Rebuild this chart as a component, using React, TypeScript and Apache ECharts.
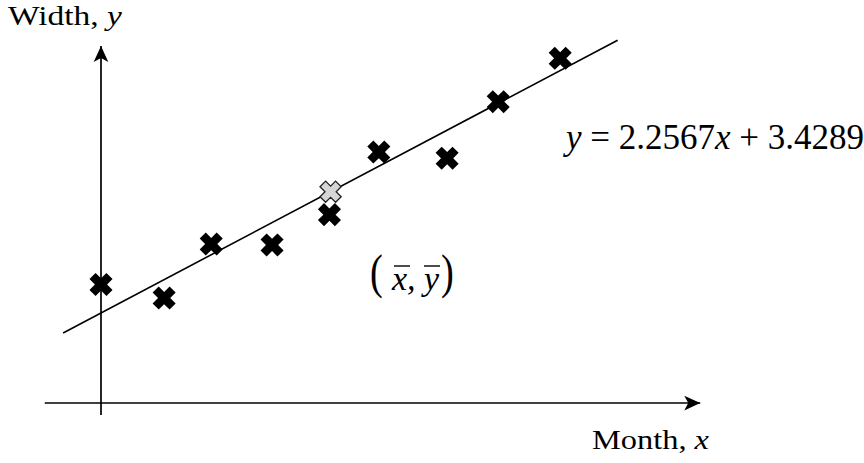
import React, { useEffect, useRef } from "react";
import * as echarts from "echarts";

// Observations: month on x, width on y
const monthX = [0, 1.1, 1.92, 2.98, 3.98, 4.84, 6.03, 6.92, 8.0];
const widthY = [5.55, 4.54, 8.56, 8.49, 10.75, 15.41, 14.95, 19.16, 22.39];

// Least-squares line y = slope * x + intercept
const slope = 2.2567;
const intercept = 3.4289;
const meanX = 4;
const fitFrom = -0.66;
const fitTo = 9.0;

// Value window of the plot and the hand-drawn axes
const xMin = -1;
const xMax = 11;
const yMin = -5;
const yMax = 25;
const xAxisLevel = -3.28;
const xAxisStart = -0.98;
const xAxisEnd = 10.44;
const yAxisStart = -4.17;
const yAxisEnd = 23.3;

const fit = (x: number) => slope * x + intercept;

// Thick cross marker: a plus sign turned 45 degrees
const CROSS =
  "path://M3.2,0 L6.8,0 L6.8,3.2 L10,3.2 L10,6.8 L6.8,6.8 L6.8,10 L3.2,10 L3.2,6.8 L0,6.8 L0,3.2 L3.2,3.2 Z";

const SERIF = "Liberation Serif";

const richPair = (size: number) => ({
  r: { fontFamily: SERIF, fontSize: size, fill: "#000", color: "#000" },
  i: { fontFamily: SERIF, fontSize: size, fontStyle: "italic", fill: "#000", color: "#000" },
});

export default function App() {
  const ref = useRef<HTMLDivElement>(null);

  useEffect(() => {
    if (!ref.current) return;
    const chart = echarts.init(ref.current, undefined, { renderer: "svg" });
    const points = monthX.map((m, i) => [m, widthY[i]]);

    chart.setOption({
      animation: false,
      backgroundColor: "#ffffff",
      grid: { left: 43.6, right: 131.6, top: 23.25, bottom: 36.85 },
      xAxis: { type: "value", min: xMin, max: xMax, show: false },
      yAxis: { type: "value", min: yMin, max: yMax, show: false },
      series: [
        {
          type: "line",
          data: [],
          silent: true,
          markLine: {
            silent: true,
            symbol: ["none", "arrow"],
            symbolSize: [11, 16],
            label: { show: false },
            lineStyle: { color: "#000", width: 1.7, type: "solid" },
            emphasis: { disabled: true },
            data: [
              [{ coord: [xAxisStart, xAxisLevel] }, { coord: [xAxisEnd, xAxisLevel] }],
              [{ coord: [0, yAxisStart] }, { coord: [0, yAxisEnd] }],
            ],
          },
        },
        {
          type: "line",
          data: [
            [fitFrom, fit(fitFrom)],
            [fitTo, fit(fitTo)],
          ],
          symbol: "none",
          silent: true,
          lineStyle: { color: "#000", width: 1.6 },
          z: 3,
        },
        {
          type: "scatter",
          data: points,
          symbol: CROSS,
          symbolRotate: 45,
          symbolSize: 24,
          itemStyle: { color: "#000", opacity: 1 },
          z: 4,
        },
        {
          type: "scatter",
          data: [[meanX, fit(meanX)]],
          symbol: CROSS,
          symbolRotate: 45,
          symbolSize: 22,
          itemStyle: { color: "#d6d6d6", borderColor: "#222", borderWidth: 1.3, opacity: 1 },
          z: 5,
        },
      ],
      graphic: [
        {
          type: "text",
          x: 8,
          y: 16,
          scaleX: 1.24,
          style: {
            text: "{r|Width, }{i|y}",
            verticalAlign: "middle",
            rich: richPair(27),
          },
        },
        {
          type: "text",
          x: 592,
          y: 439,
          scaleX: 1.2,
          style: {
            text: "{r|Month, }{i|x}",
            verticalAlign: "middle",
            rich: richPair(27),
          },
        },
        {
          type: "text",
          x: 566,
          y: 137,
          style: {
            text: `{i|y}{r| = ${slope}}{i|x}{r| + ${intercept}}`,
            verticalAlign: "middle",
            rich: richPair(35),
          },
        },
        {
          type: "text",
          x: 370,
          y: 271,
          scaleX: 0.8,
          style: { text: "{r|(}", verticalAlign: "middle", rich: richPair(48) },
        },
        {
          type: "text",
          x: 392,
          y: 278.5,
          style: { text: "{i|x, y}", verticalAlign: "middle", rich: richPair(34) },
        },
        {
          type: "text",
          x: 441,
          y: 271,
          scaleX: 0.8,
          style: { text: "{r|)}", verticalAlign: "middle", rich: richPair(48) },
        },
        {
          type: "line",
          shape: { x1: 394, y1: 266, x2: 410, y2: 266 },
          style: { stroke: "#000", lineWidth: 1.4 },
        },
        {
          type: "line",
          shape: { x1: 424, y1: 266, x2: 440, y2: 266 },
          style: { stroke: "#000", lineWidth: 1.4 },
        },
      ],
    });

    return () => chart.dispose();
  }, []);

  return (
    <div
      ref={ref}
      style={{ position: "absolute", left: 0, top: 0, width: 864, height: 463 }}
    />
  );
}
